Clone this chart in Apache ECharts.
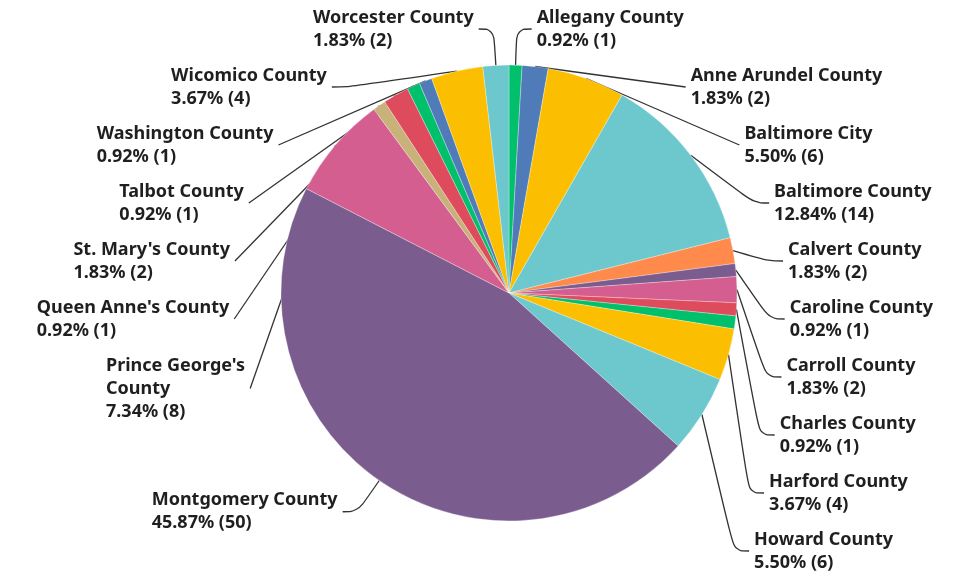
<!DOCTYPE html>
<html>
<head>
<meta charset="utf-8">
<script src="https://cdn.jsdelivr.net/npm/echarts@6/dist/echarts.min.js"></script>
<style>
  html, body { margin: 0; padding: 0; background: #fff; }
  #chart { width: 961px; height: 581px; }
</style>
</head>
<body>
<div id="chart"></div>
<script>
// counties, in the order they are drawn (clockwise from the top)
var counties = [
  "Allegany County", "Anne Arundel County", "Baltimore City", "Baltimore County",
  "Calvert County", "Caroline County", "Carroll County", "Charles County",
  "Frederick County", "Harford County", "Howard County", "Montgomery County",
  "Prince George's County", "Queen Anne's County", "St. Mary's County",
  "Talbot County", "Washington County", "Wicomico County", "Worcester County"
];
var counts = [1, 2, 6, 14, 2, 1, 2, 1, 1, 4, 6, 50, 8, 1, 2, 1, 1, 4, 2];
var colors = [
  "#00c06c", "#4f7cb9", "#fbbe00", "#6cc8cc", "#ff8a4c", "#7a5c8e", "#d45e8f",
  "#de4b5c", "#00c06c", "#fbbe00", "#6cc8cc", "#7a5c8e", "#d45e8f", "#c8b27a",
  "#de4b5c", "#00c06c", "#4f7cb9", "#fbbe00", "#6cc8cc"
];
// this one has no label in the picture
var hiddenLabels = ["Frederick County"];
// long names that wrap onto two lines in the picture
var wrappedNames = { "Prince George's County": "Prince George's\nCounty" };

var total = counts.reduce(function (a, b) { return a + b; }, 0);

var chart = echarts.init(document.getElementById("chart"));

var pieData = counties.map(function (name, i) {
  var item = { name: name, value: counts[i], itemStyle: { color: colors[i] } };
  if (hiddenLabels.indexOf(name) >= 0) {
    item.label = { show: false };
    item.labelLine = { show: false };
  }
  return item;
});

chart.setOption({
  animation: false,
  textStyle: { fontFamily: "Noto Sans" },
  series: [{
    type: "pie",
    center: [509, 293],
    radius: 228,
    startAngle: 90,
    clockwise: true,
    avoidLabelOverlap: true,
    itemStyle: { borderColor: "#fff", borderWidth: 0.3 },
    label: {
      show: true,
      minMargin: 17,
      formatter: function (p) {
        var pct = (p.value / total * 100).toFixed(2);
        var lines = (wrappedNames[p.name] || p.name).split("\n");
        lines.push(pct + "% (" + p.value + ")");
        return lines.map(function (s) { return "{n|" + s + "}"; }).join("\n");
      },
      rich: {
        n: {
          align: "left",
          fontFamily: "Noto Sans",
          fontSize: 18,
          fontWeight: 700,
          lineHeight: 23,
          color: "#1f1f1f"
        }
      }
    },
    labelLine: {
      show: true,
      length: 38,
      length2: 15,
      smooth: 0.4,
      lineStyle: { color: "#333", width: 1.3 }
    },
    data: pieData
  }]
});
</script>
</body>
</html>
